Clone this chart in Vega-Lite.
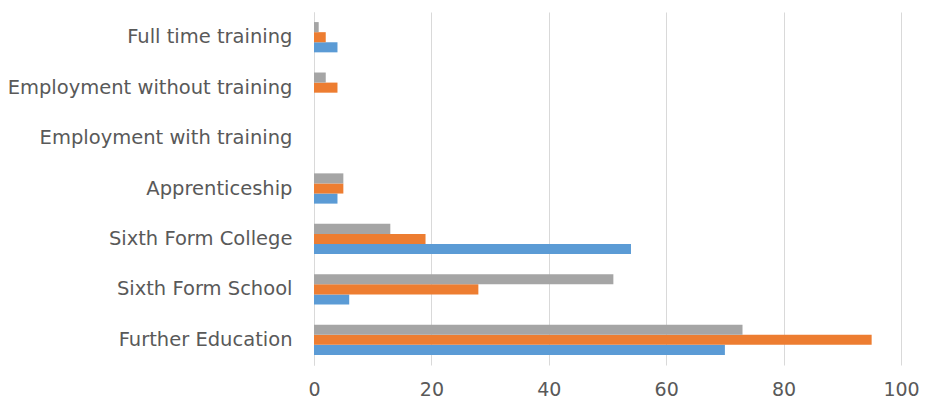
{
  "$schema": "https://vega.github.io/schema/vega-lite/v6.json",
  "autosize": "none",
  "padding": {"left": 314, "top": 12, "right": 32, "bottom": 49},
  "width": 587,
  "height": 353,
  "background": "white",
  "data": {
    "values": [
      {"category": "Full time training", "series": "Series 1", "value": 4},
      {"category": "Full time training", "series": "Series 2", "value": 2},
      {"category": "Full time training", "series": "Series 3", "value": 0.8},
      {"category": "Employment without training", "series": "Series 1", "value": 0},
      {"category": "Employment without training", "series": "Series 2", "value": 4},
      {"category": "Employment without training", "series": "Series 3", "value": 2},
      {"category": "Employment with training", "series": "Series 1", "value": 0},
      {"category": "Employment with training", "series": "Series 2", "value": 0},
      {"category": "Employment with training", "series": "Series 3", "value": 0},
      {"category": "Apprenticeship", "series": "Series 1", "value": 4},
      {"category": "Apprenticeship", "series": "Series 2", "value": 5},
      {"category": "Apprenticeship", "series": "Series 3", "value": 5},
      {"category": "Sixth Form College", "series": "Series 1", "value": 54},
      {"category": "Sixth Form College", "series": "Series 2", "value": 19},
      {"category": "Sixth Form College", "series": "Series 3", "value": 13},
      {"category": "Sixth Form School", "series": "Series 1", "value": 6},
      {"category": "Sixth Form School", "series": "Series 2", "value": 28},
      {"category": "Sixth Form School", "series": "Series 3", "value": 51},
      {"category": "Further Education", "series": "Series 1", "value": 70},
      {"category": "Further Education", "series": "Series 2", "value": 95},
      {"category": "Further Education", "series": "Series 3", "value": 73}
    ]
  },
  "config": {
    "view": {"stroke": null},
    "font": "DejaVu Sans"
  },
  "mark": {"type": "bar"},
  "encoding": {
    "y": {
      "field": "category",
      "type": "nominal",
      "sort": ["Full time training", "Employment without training", "Employment with training", "Apprenticeship", "Sixth Form College", "Sixth Form School", "Further Education"],
      "scale": {"paddingInner": 0.4, "paddingOuter": 0.2},
      "axis": {
        "title": null,
        "ticks": false,
        "domain": true,
        "domainColor": "#d9d9d9",
        "labelPadding": 22,
        "labelFontSize": 19.5,
        "labelColor": "#595959",
        "labelLimit": 400
      }
    },
    "yOffset": {
      "field": "series",
      "type": "nominal",
      "sort": ["Series 3", "Series 2", "Series 1"],
      "scale": {"paddingInner": 0}
    },
    "x": {
      "field": "value",
      "type": "quantitative",
      "scale": {"domain": [0, 100], "nice": false},
      "axis": {
        "title": null,
        "values": [0, 20, 40, 60, 80, 100],
        "ticks": false,
        "domain": false,
        "grid": true,
        "gridColor": "#d9d9d9",
        "labelFlush": false,
        "labelPadding": 15,
        "labelFontSize": 19,
        "labelColor": "#595959"
      }
    },
    "color": {
      "field": "series",
      "type": "nominal",
      "scale": {"domain": ["Series 1", "Series 2", "Series 3"], "range": ["#5b9bd5", "#ed7d31", "#a5a5a5"]},
      "legend": null
    }
  }
}
